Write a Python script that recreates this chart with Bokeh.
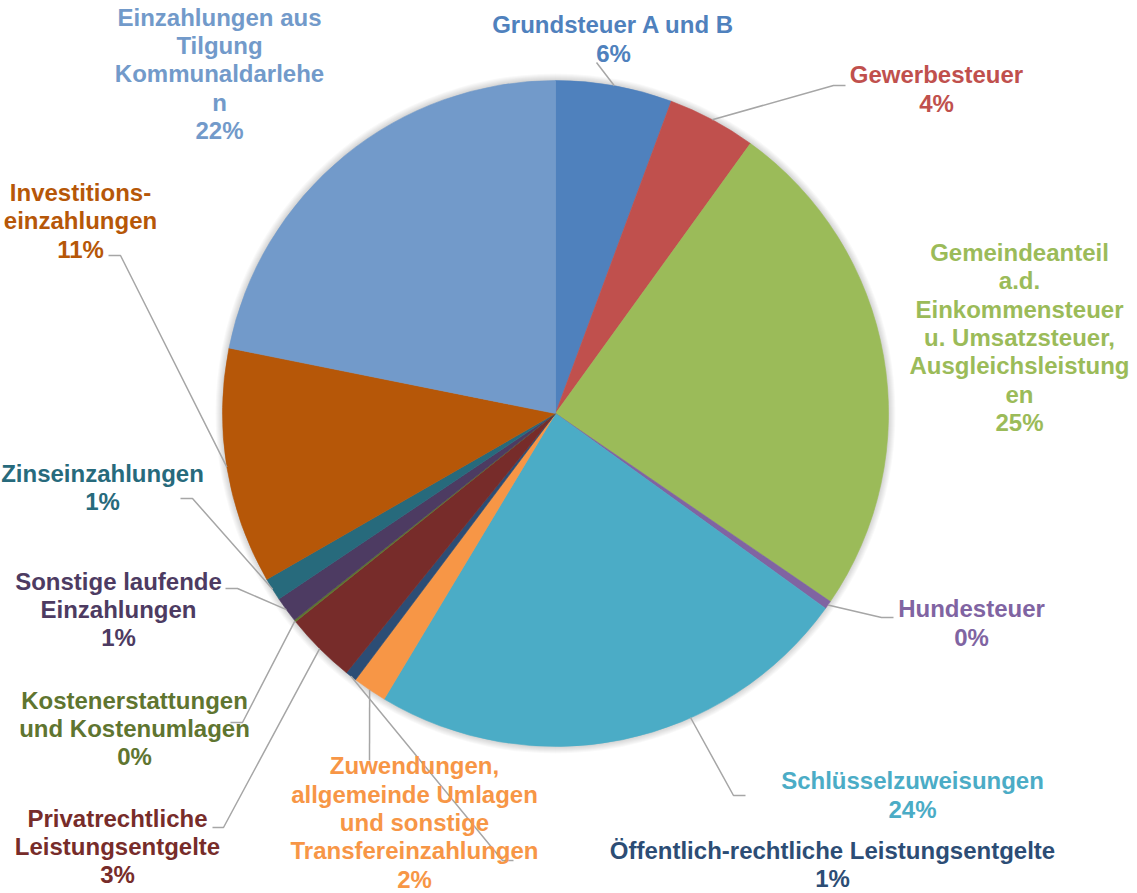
import math
from bokeh.plotting import figure
from bokeh.models import Range1d, ColumnDataSource
from bokeh.core.properties import value
from bokeh.embed import file_html
from bokeh.resources import INLINE

# ---- data ----
categories = [
    "Grundsteuer A und B",
    "Gewerbesteuer",
    "Gemeindeanteil\na.d.\nEinkommensteuer\nu. Umsatzsteuer,\nAusgleichsleistung\nen",
    "Hundesteuer",
    "Schlüsselzuweisungen",
    "Zuwendungen,\nallgemeinde Umlagen\nund sonstige\nTransfereinzahlungen",
    "Öffentlich-rechtliche Leistungsentgelte",
    "Privatrechtliche\nLeistungsentgelte",
    "Kostenerstattungen\nund Kostenumlagen",
    "Sonstige laufende\nEinzahlungen",
    "Zinseinzahlungen",
    "Investitions-\neinzahlungen",
    "Einzahlungen aus\nTilgung\nKommunaldarlehe\nn",
]
shares = [5.65, 4.3, 24.6, 0.4, 23.65, 1.65, 0.55, 3.45, 0.1, 1.25, 1.1, 11.45, 21.85]
colors = ["#4F81BD", "#C0504D", "#9BBB59", "#8064A2", "#4BACC6", "#F79646", "#2C4D75",
          "#772C2A", "#5F7530", "#4D3B62", "#276A7C", "#B65708", "#729ACA"]

# ---- layout (screen pixel coordinates, y downward) ----
W, H = 1137, 893
CX, CY, R = 555, 413, 333
label_pos = [(613, 38.5), (936, 88.5), (1019, 337), (971, 622.5), (912, 794.5), (414, 822),
             (832, 864), (117, 846), (134, 728), (118, 609), (102, 487), (80, 220.5), (219, 73.5)]
# leader line elbows/ends after the slice edge point (None = no leader)
leaders = [
    [(596, 62)],
    [(833, 85), (845, 85)],
    None,
    [(881, 617), (893, 617)],
    "schl",
    [(369, 760)],
    [(502, 860), (513, 860)],
    [(223, 827), (212, 827)],
    [(242, 722), (230, 722)],
    [(237, 588), (225, 588)],
    [(192, 498), (180, 498)],
    [(120, 255), (108, 255)],
    None,
]

def Y(y):
    return H - y

total = sum(shares)
starts, ends, mids = [], [], []
c = 0.0
for v in shares:
    a0 = math.pi / 2 - 2 * math.pi * c / total
    c += v
    a1 = math.pi / 2 - 2 * math.pi * c / total
    starts.append(a0)
    ends.append(a1)
    mids.append((a0 + a1) / 2)

labels = [f"{cat}\n{int(v / total * 100 + 0.5)}%" for cat, v in zip(categories, shares)]

p = figure(width=W, height=H, x_range=Range1d(0, W), y_range=Range1d(0, H),
           output_backend="svg", toolbar_location=None, min_border=0,
           x_axis_type=None, y_axis_type=None)
p.outline_line_color = None
p.grid.visible = False
p.background_fill_color = "white"

# soft shadow around pie
for k in range(1, 8):
    p.circle(x=[CX], y=[Y(CY)], radius=R + k, fill_color="black", fill_alpha=0.022,
             line_color=None)

src = ColumnDataSource(dict(start=starts, end=ends, color=colors))
p.wedge(x=CX, y=Y(CY), radius=R, start_angle="start", end_angle="end",
        direction="clock", fill_color="color", line_color="color", line_width=0.6,
        source=src)

# leader lines
xs, ys = [], []
for i, ld in enumerate(leaders):
    if ld is None:
        continue
    if ld == "schl":
        pts = [(690, 717), (733, 795), (745, 795)]
    else:
        ex = CX + R * math.cos(mids[i])
        ey = CY - R * math.sin(mids[i])
        pts = [(ex, ey)] + ld
    xs.append([q[0] for q in pts])
    ys.append([Y(q[1]) for q in pts])
p.multi_line(xs=xs, ys=ys, line_color="#A6A6A6", line_width=1.5)

lsrc = ColumnDataSource(dict(x=[q[0] for q in label_pos], y=[Y(q[1]) for q in label_pos],
                             text=labels, color=colors))
p.text(x="x", y="y", text="text", source=lsrc, text_color="color",
       text_font=value("Liberation Sans"), text_font_style="bold",
       text_font_size="24px", text_align="center", text_baseline="middle",
       text_line_height=1.05)

open("out.html", "w").write(file_html(p, INLINE))
